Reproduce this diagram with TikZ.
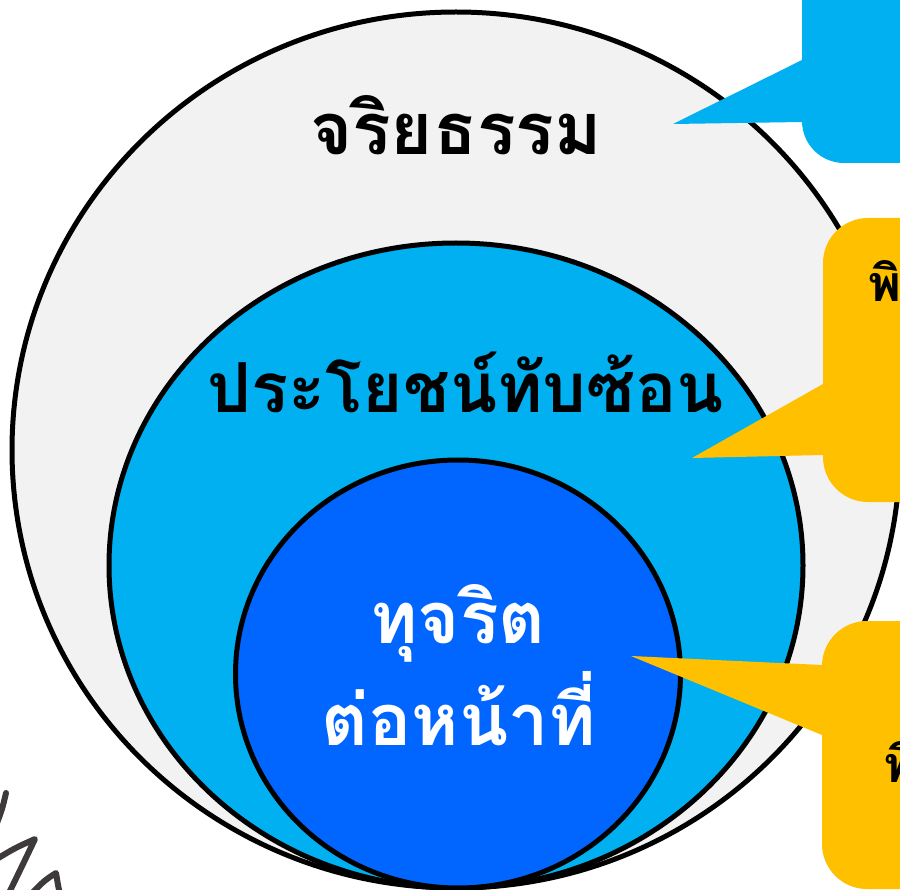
\documentclass[tikz,border=0pt]{standalone}
\usepackage{fontspec}
\newfontfamily\thaifont[Script=Thai]{Loma}
\definecolor{outerfill}{HTML}{F2F2F2}
\definecolor{midfill}{HTML}{00B0F0}
\definecolor{innerfill}{HTML}{0066FF}
\definecolor{calloutyellow}{HTML}{FFC000}
\definecolor{scribble}{HTML}{3E3A3B}
\tikzset{
  ring/.style={draw=black, line width=5pt},
  bigtext/.style={font=\thaifont\bfseries\fontsize{72}{72}\selectfont, anchor=base, inner sep=0pt},
  midtext/.style={font=\thaifont\bfseries\fontsize{69}{69}\selectfont, anchor=base, inner sep=0pt},
  smalltext/.style={font=\thaifont\bfseries\fontsize{50}{50}\selectfont, anchor=base west, inner sep=0pt},
  scrib/.style={draw=scribble, line width=6pt, line cap=round, line join=round}
}
\begin{document}
\begin{tikzpicture}[x=1pt,y=-1pt]
\useasboundingbox (0,0) rectangle (900,890);
\clip (0,0) rectangle (900,890);
\fill[white] (0,0) rectangle (900,890);
% circles
\draw[ring, fill=outerfill] (456,450) ellipse [x radius=444pt, y radius=438pt];
\draw[ring, fill=midfill] (456,565.5) ellipse [x radius=347pt, y radius=322.5pt];
\draw[ring, fill=innerfill] (458,674) ellipse [x radius=222.5pt, y radius=214pt];
% callouts
\fill[midfill, rounded corners=42pt] (802,-60) rectangle (980,163);
\fill[midfill] (802,60) -- (673,124) -- (802,122) -- cycle;
\fill[calloutyellow, rounded corners=45pt] (823,218) rectangle (980,502);
\fill[calloutyellow] (823,384) -- (692,458) -- (823,455) -- cycle;
\fill[calloutyellow, rounded corners=45pt] (822,621) rectangle (980,889);
\fill[calloutyellow] (822,665) -- (631,656) -- (822,735) -- cycle;
% texts
\node[bigtext] (ethics) at (456,155) {จริยธรรม};
\node[midtext] (conflict) at (466,413) {ประโยชน์ทับซ้อน};
\node[bigtext, text=white] (corrupt1) at (458,643) {ทุจริต};
\node[bigtext, text=white] (corrupt2) at (459,745) {ต่อหน้าที่};
\node[smalltext] (callA) at (868,302) {พิ};
\node[smalltext] (callB) at (884,782) {พิ};
% scribble
\draw[scrib] (-5,828) .. controls (2,810) .. (6,793);
\draw[scrib] (-5,860) .. controls (15,848) .. (35,839) .. controls (25,860) .. (8,895);
\draw[scrib] (30,895) .. controls (45,880) .. (56,873) .. controls (58,885) .. (60,895);
\end{tikzpicture}
\end{document}
